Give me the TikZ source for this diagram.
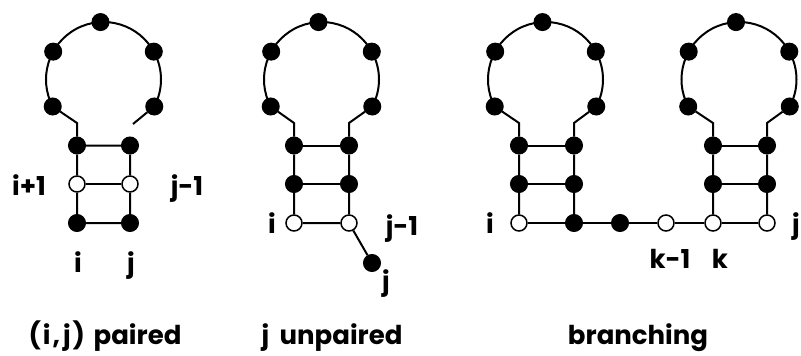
\documentclass[tikz,border=0pt]{standalone}
\usepackage{fontspec}
\setmainfont{Poppins}
\usetikzlibrary{calc}
\newcommand\rnaloop[2]{%
  \coordinate (#1c) at (#2,-79.5);
  \draw ($(#1c)+(208:57.5)$) arc[start angle=208,end angle=-28,radius=57.5];
  \node[fb] (#1l1) at ($(#1c)+(208:57.5)$) {};
  \node[fb] (#1l2) at ($(#1c)+(151:57.5)$) {};
  \node[fb] (#1t)  at ($(#1c)+(93:57.5)$) {};
  \node[fb] (#1r2) at ($(#1c)+(29:57.5)$) {};
  \node[fb] (#1r1) at ($(#1c)+(-28:57.5)$) {};
}
\begin{document}
\begin{tikzpicture}[x=1pt,y=1pt,line width=2pt,
  fb/.style={circle,fill=black,draw=black,line width=1pt,minimum size=17pt,inner sep=0pt},
  ob/.style={circle,fill=white,draw=black,line width=1.5pt,minimum size=16pt,inner sep=0pt},
  lbl/.style={font=\fontsize{26}{30}\selectfont\bfseries,anchor=base,inner sep=0pt}]
\useasboundingbox (0,0) rectangle (801,-356);
\fill[white] (0,0) rectangle (801,-356);

% ---------- (i,j) paired ----------
\rnaloop{A}{103.5}
\coordinate (Ala) at (77,-123);
\coordinate (Ara) at (133,-124);
\node[fb] (Aa1) at (77,-145.5) {};
\node[ob] (Aa2) at (77,-184) {};
\node[fb] (Aa3) at (77,-223) {};
\node[fb] (Ab1) at (130,-145.5) {};
\node[ob] (Ab2) at (130,-184) {};
\node[fb] (Ab3) at (130,-223) {};
\draw (Al1) -- (Ala) -- (Aa1) -- (Aa2) -- (Aa3) -- (Ab3) -- (Ab2) -- (Ab1) -- (Aa1);
\draw (Aa2) -- (Ab2);
\draw (Ar1) -- (Ara);
\node[lbl] (Ali) at (29,-195) {i+1};
\node[lbl] (Alj) at (187,-195) {j-1};
\node[lbl] (Ai) at (78,-272) {i};
\node[lbl] (Aj) at (131,-272) {j};
\node[lbl] (Acap) at (105,-344) {(\kern2pt i\kern2pt,\kern3pt j\kern2pt)\kern3pt\ paired};

% ---------- j unpaired ----------
\rnaloop{B}{321.5}
\coordinate (Bla) at (294,-123);
\coordinate (Bra) at (349,-123);
\node[fb] (Ba1) at (294,-145.5) {};
\node[fb] (Ba2) at (294,-184) {};
\node[ob] (Ba3) at (294,-223) {};
\node[fb] (Bb1) at (349,-145.5) {};
\node[fb] (Bb2) at (349,-184) {};
\node[ob] (Bb3) at (349,-223) {};
\node[fb] (Bj) at (372,-263) {};
\draw (Bl1) -- (Bla) -- (Ba1) -- (Ba2) -- (Ba3) -- (Bb3) -- (Bb2) -- (Bb1) -- (Bra) -- (Br1);
\draw (Ba1) -- (Bb1);
\draw (Ba2) -- (Bb2);
\draw (Bb3) -- (Bj);
\node[lbl] (Bi) at (272,-233) {i};
\node[lbl] (Bjm) at (402,-235) {j-1};
\node[lbl] (Bjl) at (386,-290) {j};
\node[lbl] (Bcap) at (332,-344) {j\kern5pt\ unpaired};

% ---------- branching ----------
\rnaloop{C}{545.5}
\rnaloop{D}{739}
\coordinate (Cla) at (519,-123);
\coordinate (Cra) at (574,-123);
\coordinate (Dla) at (713,-123);
\coordinate (Dra) at (767,-123);
\node[fb] (Ca1) at (519,-145.5) {};
\node[fb] (Ca2) at (519,-184) {};
\node[ob] (Ca3) at (519,-223) {};
\node[fb] (Cb1) at (574,-145.5) {};
\node[fb] (Cb2) at (574,-184) {};
\node[fb] (Cb3) at (574,-223) {};
\node[fb] (Cm) at (620,-223) {};
\node[ob] (Cn) at (666,-223) {};
\node[fb] (Da1) at (713,-145.5) {};
\node[fb] (Da2) at (713,-184) {};
\node[ob] (Da3) at (713,-223) {};
\node[fb] (Db1) at (767,-145.5) {};
\node[fb] (Db2) at (767,-184) {};
\node[ob] (Db3) at (767,-223) {};
\draw (Cl1) -- (Cla) -- (Ca1) -- (Ca2) -- (Ca3);
\draw (Cr1) -- (Cra) -- (Cb1) -- (Cb2) -- (Cb3);
\draw (Ca1) -- (Cb1);
\draw (Ca2) -- (Cb2);
\draw (Ca3) -- (Cb3) -- (Cm) -- (Cn) -- (Da3) -- (Db3);
\draw (Dl1) -- (Dla) -- (Da1) -- (Da2) -- (Da3);
\draw (Dr1) -- (Dra) -- (Db1) -- (Db2) -- (Db3);
\draw (Da1) -- (Db1);
\draw (Da2) -- (Db2);
\node[lbl] (Ci) at (490,-233) {i};
\node[lbl] (Dj) at (796,-233) {j};
\node[lbl] (Ck) at (670,-268) {k-1};
\node[lbl] (Dk) at (720,-268) {k};
\node[lbl] (Ccap) at (638,-344) {branching};
\end{tikzpicture}
\end{document}
